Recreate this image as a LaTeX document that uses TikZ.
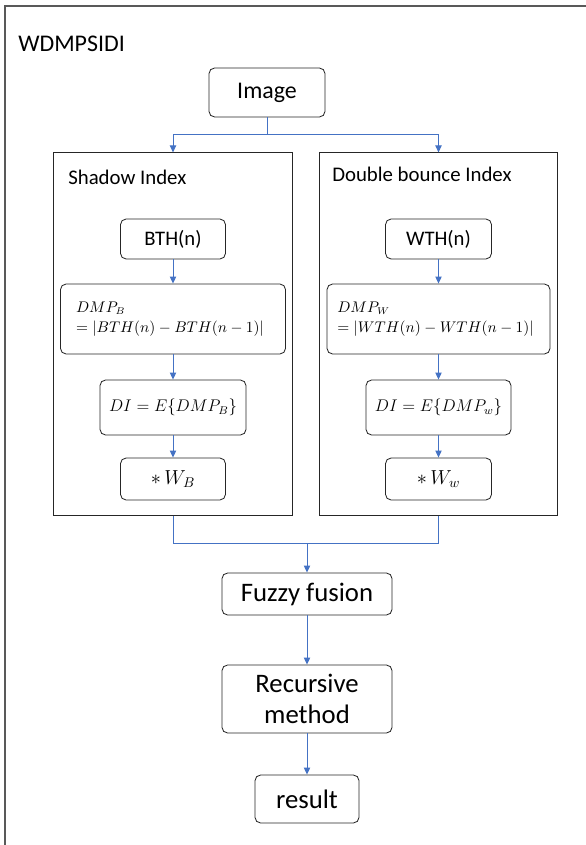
\documentclass[tikz,border=0pt]{standalone}
\usepackage{amsmath}
\usepackage{fontspec}
\setmainfont{Carlito}
\usetikzlibrary{positioning, arrows.meta}

\begin{document}
\begin{tikzpicture}[
x=0.025cm, y=-0.025cm,
box/.style={rectangle, rounded corners=4pt, draw=black!85, line width=0.6pt, inner sep=0pt, align=center},
panel/.style={rectangle, draw=black!85, line width=0.7pt, inner sep=0pt},
big/.style={font=\fontsize{17}{20}\selectfont},
low/.style={font=\fontsize{19}{22.5}\selectfont},
mid/.style={font=\fontsize{14.7}{17}\selectfont},
head/.style={font=\fontsize{14.8}{17}\selectfont, inner sep=0pt},
flow/.style={-{Triangle[width=4.5pt,length=5pt]}, draw={rgb,255:red,68;green,114;blue,196}, line width=0.7pt},
link/.style={draw={rgb,255:red,68;green,114;blue,196}, line width=0.7pt}
]
\useasboundingbox (0,0) rectangle (585,845);
% outer frame
\draw[black!65, line width=1.4pt] (5,850) -- (5,6) -- (590,6);
\node[big, inner sep=0pt, anchor=base west] (title) at (18,52) {WDMPSIDI};

\node[box, big, minimum width=2.9cm, minimum height=1.225cm] (image) at (267,92.5) {Image};

% two index panels
\node[panel, minimum width=5.95cm, minimum height=9.05cm] (shadow) at (173,334) {};
\node[panel, minimum width=5.925cm, minimum height=9.05cm] (bounce) at (438.5,334) {};
\node[head, anchor=base west] (shadowtxt) at (68,185) {Shadow Index};
\node[head, anchor=base west] (bouncetxt) at (332,182) {Double bounce Index};

\node[box, mid, minimum width=2.625cm, minimum height=1cm] (BTH) at (173,239) {BTH(n)};
\node[box, minimum width=5.625cm, minimum height=1.75cm, align=left, font=\fontsize{10.5}{14.5}\selectfont] (DMPB) at (173,319)
  {\hspace*{-1.5mm}$DMP_B$\\\hspace*{-1.5mm}$= |BTH(n) - BTH(n-1)|$};
\node[box, minimum width=3.65cm, minimum height=1.375cm, font=\fontsize{12}{14}\selectfont] (DIB) at (173,407.5) {$DI = E\{DMP_B\}$};
\node[box, minimum width=2.625cm, minimum height=1.05cm, font=\fontsize{14}{16}\selectfont] (WB) at (173,479) {$*\, W_B$};

\node[box, mid, minimum width=2.65cm, minimum height=1cm] (WTH) at (438.5,239) {WTH(n)};
\node[box, minimum width=5.575cm, minimum height=1.75cm, align=left, font=\fontsize{10.5}{14.5}\selectfont] (DMPW) at (438.5,319)
  {\hspace*{-1.5mm}$DMP_W$\\\hspace*{-1.5mm}$= |WTH(n) - WTH(n-1)|$};
\node[box, minimum width=3.625cm, minimum height=1.375cm, font=\fontsize{12}{14}\selectfont] (DIW) at (438.5,407.5) {$DI = E\{DMP_w\}$};
\node[box, minimum width=2.65cm, minimum height=1.05cm, font=\fontsize{14}{16}\selectfont] (WW) at (438.5,479) {$*\, W_w$};

\node[box, low, minimum width=4.25cm, minimum height=1.05cm] (fuzzy) at (307,594) {Fuzzy fusion};
\node[box, low, minimum width=4.25cm, minimum height=1.7cm] (recur) at (307,699) {Recursive\\method};
\node[box, low, minimum width=2.6cm, minimum height=1.2cm] (result) at (307,799) {result};

\coordinate (split) at (267,134);
\coordinate (join) at (307,543);

\draw[link] (image.south) -- (split);
\draw[flow] (split) -| (shadow.north);
\draw[flow] (split) -| (bounce.north);

\draw[flow] (BTH) -- (DMPB);
\draw[flow] (DMPB) -- (DIB);
\draw[flow] (DIB) -- (WB);
\draw[flow] (WTH) -- (DMPW);
\draw[flow] (DMPW) -- (DIW);
\draw[flow] (DIW) -- (WW);

\draw[link] (shadow.south) |- (join);
\draw[link] (bounce.south) |- (join);
\draw[flow] (join) -- (fuzzy);
\draw[flow] (fuzzy) -- (recur);
\draw[flow] (recur) -- (result);
\end{tikzpicture}
\end{document}
